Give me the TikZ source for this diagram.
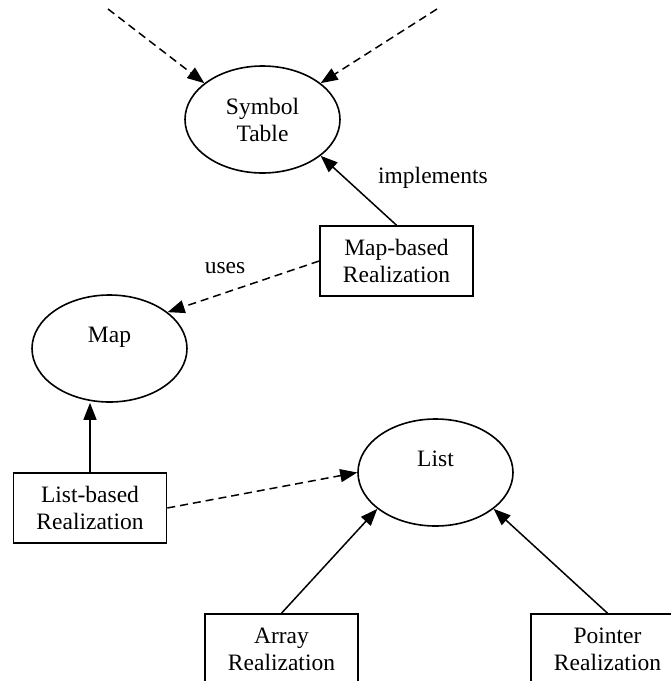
\documentclass[tikz,border=0pt]{standalone}
\usepackage{fontspec}
\setmainfont{Liberation Serif}
\usetikzlibrary{arrows.meta,shapes.geometric}
\begin{document}
\begin{tikzpicture}[x=1pt,y=-1pt,
  txt/.style={font=\fontsize{23.5}{27}\selectfont, align=center},
  ell/.style={ellipse, draw, line width=1.6pt, minimum width=155pt, minimum height=107pt, inner sep=0pt, txt},
  rbox/.style={rectangle, draw, line width=1.6pt, minimum width=153pt, minimum height=70pt, inner sep=0pt, txt},
  conn/.style={line width=1.5pt, -{Triangle[length=17pt,width=13pt]}},
  dconn/.style={conn, dash pattern=on 8pt off 5pt},
  lbl/.style={txt, inner sep=0pt}]
\useasboundingbox (0,0) rectangle (671,681);
\clip (0,0) rectangle (671,681);
\node[ell] (sym) at (262.5,119.5) {Symbol\\Table};
\node[ell] (map) at (109.5,348.5) {Map\\\phantom{M}};
\node[ell] (list) at (435.5,472.5) {List\\\phantom{L}};
\node[rbox] (mb) at (396.5,261) {Map-based\\Realization};
\node[rbox] (lb) at (90,508) {List-based\\Realization};
\node[rbox] (ar) at (281.5,649) {Array\\Realization};
\node[rbox] (pr) at (607.5,649) {Pointer\\Realization};
\coordinate (t1) at (108,9);
\coordinate (t2) at (437,9);
\draw[dconn] (t1) -- (sym.148);
\draw[dconn] (t2) -- (sym.32);
\draw[conn] (mb.north) -- (sym.-32);
\node[lbl] (implements) at (433,178) {implements};
\draw[dconn] (mb.west) -- (map.32);
\node[lbl] (uses) at (225,268) {uses};
\draw[conn] (lb.north) -- (lb.north |- map.south);
\draw[dconn] (lb.east) -- (list.west);
\draw[conn] (ar.north) -- (list.212);
\draw[conn] (pr.north) -- (list.328);
\end{tikzpicture}
\end{document}
